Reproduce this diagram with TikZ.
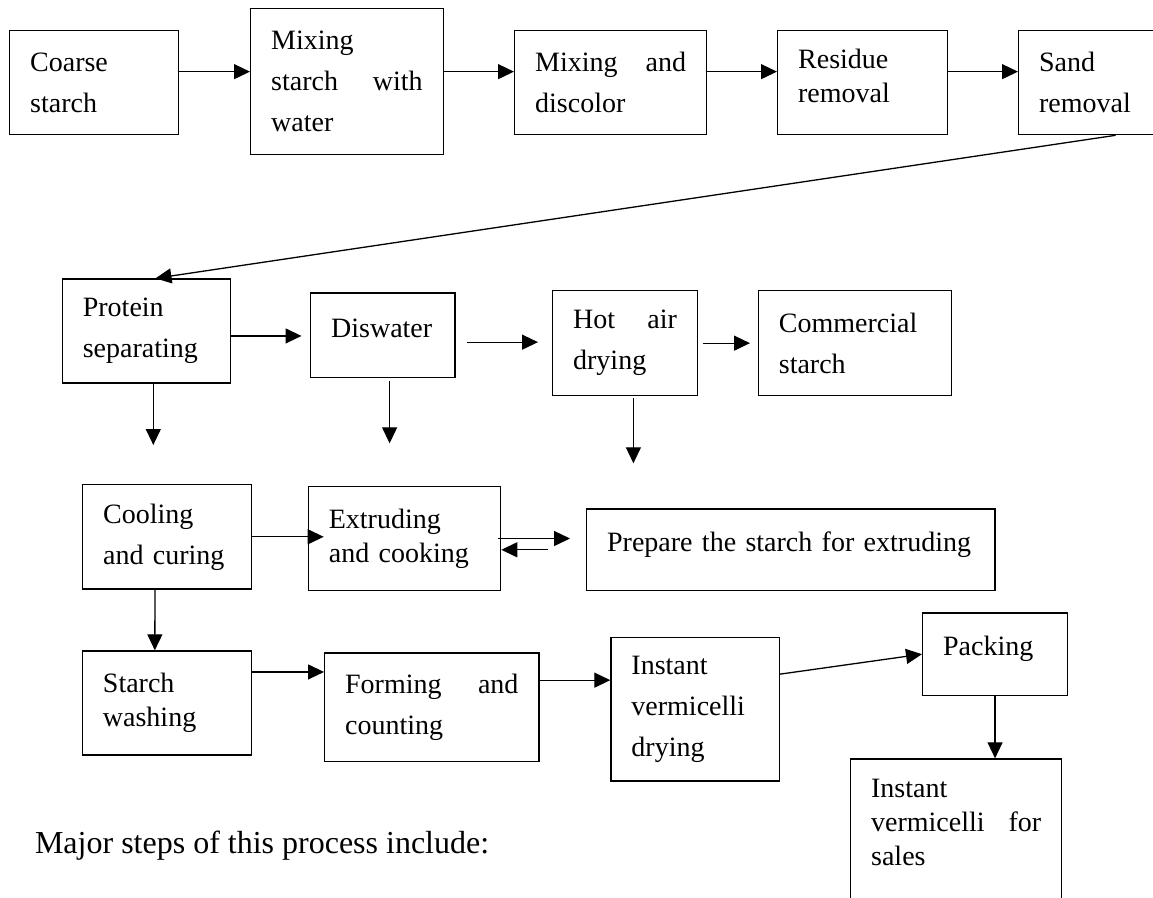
\documentclass[tikz,border=0pt]{standalone}
\usepackage{fontspec}
\setmainfont{Liberation Serif}
\usepackage{tikz}
\usetikzlibrary{arrows.meta}

\begin{document}
\begin{tikzpicture}[x=1pt, y=-1pt, line width=1.3pt, ->, >={Triangle[length=16pt, width=15pt]},
  stage/.style={draw, rectangle, anchor=north west, align=left, inner xsep=20.5pt, inner ysep=0pt, font=\fontsize{28}{41}\selectfont},
  snug/.style={stage, font=\fontsize{28}{34}\selectfont}]
\clip (0,0) rectangle (1153,897);
\node[stage, text width=128pt, minimum height=104pt] (coarse) at (9,30) {Coarse\\ starch};
\node[stage, text width=151.5pt, minimum height=146pt] (mixwater) at (250,8) {Mixing\\ starch \hfill with\\ water};
\node[stage, text width=151pt, minimum height=104pt] (discolor) at (514,30) {Mixing \hfill and\\ discolor};
\node[snug, text width=129pt, minimum height=104pt, text depth=48pt] (residue) at (777,30) {Residue\\ removal};
\node[stage, text width=153pt, minimum height=104pt] (sand) at (1018,30) {Sand\\ removal};
\node[stage, text width=127.3pt, minimum height=104pt] (protein) at (61.7,278.3) {Protein\\ separating};
\node[stage, text width=103.3pt, minimum height=84.4pt, text depth=14pt] (diswater) at (310,292.3) {Diswater};
\node[stage, text width=103.8pt, minimum height=105pt] (hotair) at (552,290) {Hot \hfill air\\ drying};
\node[stage, text width=151.8pt, minimum height=105pt] (commercial) at (757.7,290) {Commercial\\ starch};
\node[stage, text width=127.7pt, minimum height=104.3pt] (cooling) at (82,484) {Cooling\\ and curing};
\node[snug, text width=151.3pt, minimum height=104.3pt] (extruding) at (307.7,485.7) {Extruding\\ and cooking};
\node[stage, text width=367.2pt, minimum height=81.7pt, text depth=16pt] (prepare) at (586,508.3) {Prepare the starch for extruding};
\node[snug, text width=127.7pt, minimum height=104pt] (washing) at (81.8,650.3) {Starch\\ washing};
\node[stage, text width=173.3pt, minimum height=108.4pt] (forming) at (324,652.3) {Forming \hfill and\\ counting};
\node[stage, text width=127.3pt, minimum height=143.6pt] (drying) at (610.3,636.7) {Instant\\ vermicelli\\ drying};
\node[stage, text width=103.8pt, minimum height=82.4pt, text depth=16pt] (packing) at (922,612.3) {Packing};
\node[snug, text width=170pt, minimum height=172pt, text depth=114pt] (sales) at (850,758.3) {Instant\\ vermicelli \hfill for\\ sales};
\node[anchor=base west, inner sep=0pt, font=\fontsize{32}{38}\selectfont] (major) at (34.4,853.3) {Major steps of this process include:};
\coordinate (protein-out) at (153.3,445);
\coordinate (diswater-out) at (389.6,443.3);
\coordinate (hotair-out) at (633.4,463.3);
\draw ([yshift=11pt]coarse.east) -- ([yshift=11pt]coarse.east -| mixwater.west);
\draw ([yshift=10pt]mixwater.east) -- ([yshift=10pt]mixwater.east -| discolor.west);
\draw ([yshift=11pt]discolor.east) -- ([yshift=11pt]discolor.east -| residue.west);
\draw ([yshift=11pt]residue.east) -- ([yshift=11pt]residue.east -| sand.west);
\draw (sand.south) -- ([xshift=9pt]protein.north);
\draw[shorten >=8.5pt] ([yshift=-5pt]protein.east) -- ([yshift=-5pt]protein.east -| diswater.west);
\draw[shorten <=11pt, shorten >=14pt] ([yshift=-7pt]diswater.east) -- ([yshift=-7pt]diswater.east -| hotair.west);
\draw[shorten <=4.7pt, shorten >=7.7pt] (hotair.east) -- (hotair.east -| commercial.west);
\draw (protein.south -| protein-out) -- (protein-out);
\draw[shorten <=3pt] (diswater.south -| diswater-out) -- (diswater-out);
\draw[shorten <=2pt] (hotair.south -| hotair-out) -- (hotair-out);
\draw[shorten >=-16pt] (cooling.east) -- (cooling.east -| extruding.west);
\draw[shorten <=-3pt, shorten >=16pt] (extruding.east) -- (extruding.east -| prepare.west);
\draw[shorten <=38pt] (prepare.west) -- (prepare.west -| extruding.east);
\draw ([xshift=-12pt]cooling.south) -- ([xshift=-12pt]washing.north);
\draw ([yshift=31pt]washing.east) -- ([yshift=31pt]washing.east -| forming.west);
\draw ([yshift=27pt]forming.east) -- ([yshift=27pt]forming.east -| drying.west);
\draw ([yshift=35pt]drying.east) -- (packing.west);
\draw (packing.south) -- (packing.south |- sales.north);
\end{tikzpicture}
\end{document}
